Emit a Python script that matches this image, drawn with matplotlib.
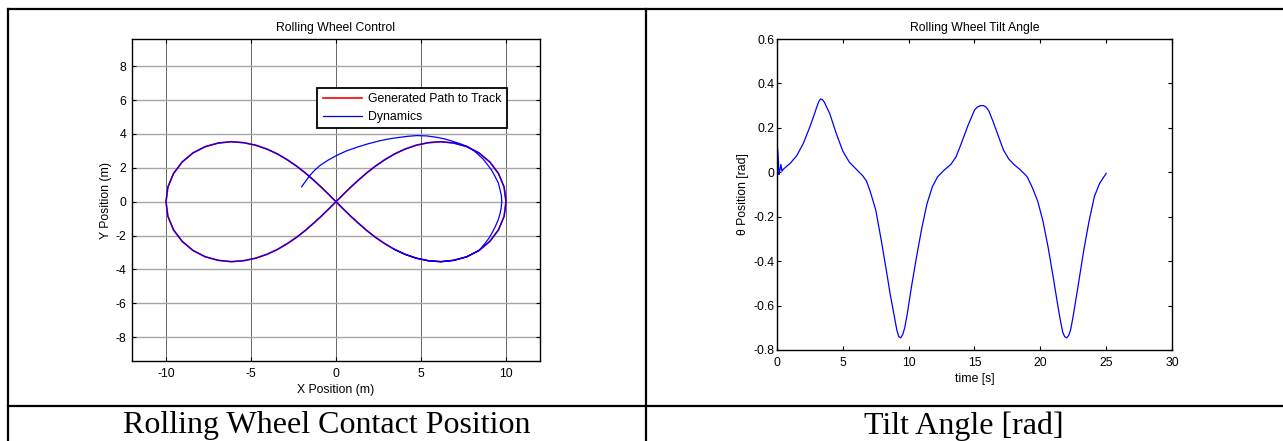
import numpy as np
import matplotlib
matplotlib.use('Agg')
from matplotlib import pyplot as plt
from matplotlib.lines import Line2D

plt.rcParams['font.family'] = ['Liberation Sans', 'DejaVu Sans']
plt.rcParams['axes.unicode_minus'] = False

# generated path (figure eight), starting at (10, 0)
path_x = [10.0, 9.89, 9.56, 9.05, 8.41, 7.69, 6.93, 6.16, 5.42, 4.71, 4.05, 3.43, 2.86, 2.32, 1.82, 1.34, 0.88, 0.44,
          0.0, -0.44, -0.88, -1.34, -1.82, -2.32, -2.86, -3.43, -4.05, -4.71, -5.42, -6.16, -6.93, -7.69, -8.41, -9.05, -9.56, -9.89,
          -10.0, -9.89, -9.56, -9.05, -8.41, -7.69, -6.93, -6.16, -5.42, -4.71, -4.05, -3.43, -2.86, -2.32, -1.82, -1.34, -0.88, -0.44,
          0.0, 0.44, 0.88, 1.34, 1.82, 2.32, 2.86, 3.43, 4.05, 4.71, 5.42, 6.16, 6.93, 7.69, 8.41, 9.05, 9.56, 9.89, 10.0]
path_y = [0.0, 0.86, 1.66, 2.34, 2.88, 3.25, 3.46, 3.54, 3.48, 3.33, 3.10, 2.81, 2.47, 2.10, 1.71, 1.29, 0.87, 0.44,
          0.0, -0.44, -0.87, -1.29, -1.71, -2.10, -2.47, -2.81, -3.10, -3.33, -3.48, -3.54, -3.46, -3.25, -2.88, -2.34, -1.66, -0.86,
          0.0, 0.86, 1.66, 2.34, 2.88, 3.25, 3.46, 3.54, 3.48, 3.33, 3.10, 2.81, 2.47, 2.10, 1.71, 1.29, 0.87, 0.44,
          0.0, -0.44, -0.87, -1.29, -1.71, -2.10, -2.47, -2.81, -3.10, -3.33, -3.48, -3.54, -3.46, -3.25, -2.88, -2.34, -1.66, -0.86, 0.0]

# dynamics: start-up transient before it settles on the path
dyn_start_x = [-2.02, -1.78, -1.53, -1.25, -0.94, -0.45, 0.04, 0.6, 1.22, 1.9, 2.59, 3.2, 3.76, 4.25, 4.75, 5.35, 5.92, 6.45,
               6.9, 7.3, 7.69, 8.05, 8.35, 8.65, 8.9, 9.15, 9.35, 9.55, 9.65, 9.73, 9.75, 9.72, 9.65, 9.55, 9.4, 9.22, 9.0, 8.72, 8.41]
dyn_start_y = [0.88, 1.22, 1.56, 1.86, 2.14, 2.46, 2.73, 2.99, 3.21, 3.42, 3.6, 3.72, 3.8, 3.86, 3.9, 3.88, 3.8, 3.69,
               3.55, 3.42, 3.27, 3.06, 2.8, 2.52, 2.2, 1.87, 1.5, 1.1, 0.7, 0.35, 0.0, -0.35, -0.7, -1.05, -1.4, -1.77, -2.15, -2.52, -2.88]

# tilt angle over time, right plot
time_s = [0.0, 0.03, 0.08, 0.15, 0.22, 0.3, 0.38, 0.5, 1.0, 1.5, 2.0, 2.5, 2.8, 3.0, 3.15, 3.3, 3.45, 3.6, 3.8, 4.0,
          4.5, 5.0, 5.5, 6.0, 6.5, 6.8, 7.1, 7.5, 7.9, 8.3, 8.6, 8.9, 9.1, 9.25, 9.4, 9.55, 9.7, 9.9, 10.2, 10.6,
          11.0, 11.4, 11.8, 12.2, 12.7, 13.2, 13.6, 14.0, 14.5, 15.0, 15.2, 15.45, 15.7, 15.9, 16.1, 16.4, 16.8,
          17.2, 17.6, 18.0, 18.5, 19.0, 19.4, 19.8, 20.2, 20.6, 21.0, 21.3, 21.5, 21.7, 21.85, 22.0, 22.15, 22.3,
          22.5, 22.9, 23.3, 23.7, 24.1, 24.5, 25.0]
tilt = [0.0, 0.115, 0.08, -0.01, 0.01, 0.035, 0.005, 0.015, 0.04, 0.075, 0.13, 0.205, 0.255, 0.29, 0.315, 0.33,
        0.327, 0.315, 0.29, 0.265, 0.175, 0.095, 0.045, 0.015, -0.015, -0.04, -0.09, -0.17, -0.3, -0.44, -0.55,
        -0.645, -0.71, -0.74, -0.745, -0.73, -0.70, -0.635, -0.52, -0.38, -0.25, -0.14, -0.065, -0.02, 0.01, 0.035,
        0.07, 0.13, 0.21, 0.28, 0.293, 0.30, 0.30, 0.292, 0.275, 0.23, 0.165, 0.1, 0.06, 0.035, 0.01, -0.02, -0.07,
        -0.13, -0.22, -0.34, -0.48, -0.59, -0.66, -0.72, -0.74, -0.745, -0.735, -0.71, -0.645, -0.5, -0.35, -0.22,
        -0.11, -0.05, -0.005]

W, H = 1283, 441
fig = plt.figure(figsize=(W / 100, H / 100), dpi=100)
fs = 8.8


def box(l, t, r, b):
    return [l / W, (H - b) / H, (r - l) / W, (b - t) / H]


def matlab_axes(ax):
    ax.tick_params(direction='in', length=3, width=0.8, top=True, right=True, labelsize=fs, pad=4)
    for s in ax.spines.values():
        s.set_linewidth(1.0)


# left: path tracking
ax1 = fig.add_axes(box(132, 39, 540, 361))
dyn_x = dyn_start_x + path_x[68::-1] + path_x[72:60:-1]
dyn_y = dyn_start_y + path_y[68::-1] + path_y[72:60:-1]
ax1.plot(path_x, path_y, color='red', lw=1.2, label='Generated Path to Track')
ax1.plot(dyn_x, dyn_y, color='blue', lw=0.9, label='Dynamics')
ax1.set_xlim(-12, 12)
ax1.set_ylim(-9.4, 9.6)
ax1.set_xticks([-10, -5, 0, 5, 10])
ax1.set_yticks([-8, -6, -4, -2, 0, 2, 4, 6, 8])
ax1.xaxis.grid(True, color='0.4', lw=0.7)
ax1.yaxis.grid(True, color='0.65', lw=1.0)
ax1.set_axisbelow(True)
matlab_axes(ax1)
ax1.tick_params(axis='x', pad=5)
ax1.set_title('Rolling Wheel Control', fontsize=fs, pad=6)
ax1.set_xlabel('X Position (m)', fontsize=fs, labelpad=3)
ax1.set_ylabel('Y Position (m)', fontsize=fs, labelpad=3)
leg = ax1.legend(loc='upper right', bbox_to_anchor=(0.919, 0.848), fontsize=fs, handlelength=3.2,
                 fancybox=False, framealpha=1, edgecolor='black', borderpad=0.45, labelspacing=0.45,
                 handletextpad=0.5, borderaxespad=0)
leg.get_frame().set_linewidth(1.3)

# right: tilt angle
ax2 = fig.add_axes(box(777, 39, 1172, 350))
ax2.plot(time_s, tilt, color='blue', lw=0.9)
ax2.set_xlim(0, 30)
ax2.set_ylim(-0.8, 0.6)
ax2.set_xticks([0, 5, 10, 15, 20, 25, 30])
yt = [-0.8, -0.6, -0.4, -0.2, 0, 0.2, 0.4, 0.6]
ax2.set_yticks(yt)
ax2.set_yticklabels(['-0.8', '-0.6', '-0.4', '-0.2', '0', '0.2', '0.4', '0.6'])
matlab_axes(ax2)
ax2.tick_params(axis='y', pad=2)
ax2.tick_params(axis='x', pad=5)
ax2.set_title('Rolling Wheel Tilt Angle', fontsize=fs, pad=6)
ax2.set_xlabel('time [s]', fontsize=fs, labelpad=3)
ax2.set_ylabel('\u03b8 Position [rad]', fontsize=fs, labelpad=3)

# table frame and captions
for xs, ys in [([8, W], [9, 9]), ([8, 8], [9, H]), ([646, 646], [9, H]), ([8, W], [406, 406])]:
    fig.add_artist(Line2D([x / W for x in xs], [1 - y / H for y in ys], color='black', lw=1.6))
fig.text(327 / W, 1 - 426 / H, 'Rolling Wheel Contact Position', ha='center', va='center',
         family='Liberation Serif', fontsize=23)
fig.text(964 / W, 1 - 426 / H, 'Tilt Angle [rad]', ha='center', va='center',
         family='Liberation Serif', fontsize=23)

fig.savefig('out.png', dpi=100)
